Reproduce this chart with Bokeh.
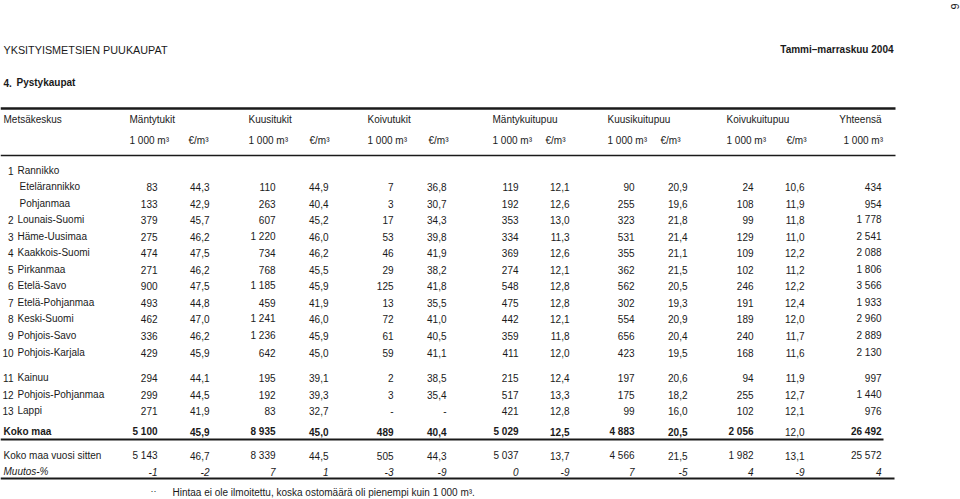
from bokeh.plotting import figure
from bokeh.models import ColumnDataSource, Range1d
from bokeh.core.properties import value
from bokeh.embed import file_html
from bokeh.resources import INLINE
import math

# ---------------- data ----------------
title = "YKSITYISMETSIEN PUUKAUPAT"
period = "Tammi\u2013marraskuu 2004"
section_no = "4."
section = "Pystykaupat"
page_no = "9"

groups = ["Mäntytukit", "Kuusitukit", "Koivutukit", "Mäntykuitupuu", "Kuusikuitupuu", "Koivukuitupuu"]
unit_vol = "1 000 m³"
unit_price = "€/m³"

region_nums = ["", "", "2", "3", "4", "5", "6", "7", "8", "9", "10", "11", "12", "13"]
regions = ["Etelärannikko", "Pohjanmaa", "Lounais-Suomi", "Häme-Uusimaa", "Kaakkois-Suomi",
           "Pirkanmaa", "Etelä-Savo", "Etelä-Pohjanmaa", "Keski-Suomi", "Pohjois-Savo",
           "Pohjois-Karjala", "Kainuu", "Pohjois-Pohjanmaa", "Lappi"]

mant_m3 = [83, 133, 379, 275, 474, 271, 900, 493, 462, 336, 429, 294, 299, 271]
mant_eur = [44.3, 42.9, 45.7, 46.2, 47.5, 46.2, 47.5, 44.8, 47.0, 46.2, 45.9, 44.1, 44.5, 41.9]
kuusi_m3 = [110, 263, 607, 1220, 734, 768, 1185, 459, 1241, 1236, 642, 195, 192, 83]
kuusi_eur = [44.9, 40.4, 45.2, 46.0, 46.2, 45.5, 45.9, 41.9, 46.0, 45.9, 45.0, 39.1, 39.3, 32.7]
koivu_m3 = [7, 3, 17, 53, 46, 29, 125, 13, 72, 61, 59, 2, 3, None]
koivu_eur = [36.8, 30.7, 34.3, 39.8, 41.9, 38.2, 41.8, 35.5, 41.0, 40.5, 41.1, 38.5, 35.4, None]
mkuitu_m3 = [119, 192, 353, 334, 369, 274, 548, 475, 442, 359, 411, 215, 517, 421]
mkuitu_eur = [12.1, 12.6, 13.0, 11.3, 12.6, 12.1, 12.8, 12.8, 12.1, 11.8, 12.0, 12.4, 13.3, 12.8]
kkuitu_m3 = [90, 255, 323, 531, 355, 362, 562, 302, 554, 656, 423, 197, 175, 99]
kkuitu_eur = [20.9, 19.6, 21.8, 21.4, 21.1, 21.5, 20.5, 19.3, 20.9, 20.4, 19.5, 20.6, 18.2, 16.0]
kokuitu_m3 = [24, 108, 99, 129, 109, 102, 246, 191, 189, 240, 168, 94, 255, 102]
kokuitu_eur = [10.6, 11.9, 11.8, 11.0, 12.2, 11.2, 12.2, 12.4, 12.0, 11.7, 11.6, 11.9, 12.7, 12.1]
yht_m3 = [434, 954, 1778, 2541, 2088, 1806, 3566, 1933, 2960, 2889, 2130, 997, 1440, 976]

koko_maa = [5100, 45.9, 8935, 45.0, 489, 40.4, 5029, 12.5, 4883, 20.5, 2056, 12.0, 26492]
vuosi_sitten = [5143, 46.7, 8339, 44.5, 505, 44.3, 5037, 13.7, 4566, 21.5, 1982, 13.1, 25572]
muutos = [-1, -2, 7, 1, -3, -9, 0, -9, 7, -5, 4, -9, 4]

footnote = "Hintaa ei ole ilmoitettu, koska ostomäärä oli pienempi kuin 1 000 m³."

# ---------------- layout ----------------
W, H = 960, 499
FONT = "Liberation Sans"
FS = "10px"
INK = "#1a1a1a"

col_right = [157, 209, 275, 328, 393, 446, 518, 569, 634, 687, 753, 804, 881]
group_left = [129, 248, 367, 492, 607, 726]
price_left = [188, 309, 428, 545, 660, 786]
row_y = [186, 203, 219, 236, 252, 269, 285, 302, 318, 335, 352, 377, 394, 410]


def fmt_int(v):
    if v is None:
        return "-"
    s = f"{abs(int(v)):,}".replace(",", " ")
    return ("-" if v < 0 else "") + s


def fmt_dec(v):
    if v is None:
        return "-"
    return f"{v:.1f}".replace(".", ",")


def fmt_row(vals):
    return [fmt_int(v) if i % 2 == 0 or i == 12 else fmt_dec(v) for i, v in enumerate(vals)]


p = figure(width=W, height=H, output_backend="svg", toolbar_location=None,
           x_range=Range1d(0, W), y_range=Range1d(H, 0),
           min_border=0, outline_line_color=None)
p.axis.visible = False
p.grid.visible = False
p.background_fill_color = "white"


def txt(xs, ys, texts, align="left", style="normal", size=FS, angle=0.0):
    src = ColumnDataSource(dict(x=xs, y=ys, t=texts))
    p.text(x="x", y="y", text="t", source=src, text_align=align, text_baseline="middle",
           text_font=value(FONT), text_font_size=size, text_font_style=style,
           text_color=INK, angle=angle)


# title block
txt([3], [49], [title], size="10.8px")
txt([893], [49], [period], align="right", style="bold", size="10px")
txt([3], [82], [section_no], style="bold", size="10px")
txt([16], [82], [section], style="bold", size="10px")
txt([954], [6], [page_no], align="center", size="11px", angle=math.pi / 2)

# rules
p.segment(x0=[0, 0, 0, 0], x1=[895, 895, 883, 894], y0=[108, 155, 439, 478], y1=[108, 155, 439, 478],
          line_color=INK, line_width=[2.6, 1.6, 2.2, 2.2])

# header
txt([3], [119], ["Metsäkeskus"])
txt(group_left, [119] * 6, groups)
txt([881], [119], ["Yhteensä"], align="right")
txt(group_left + [843], [140] * 7, [unit_vol] * 7)
txt(price_left, [140] * 6, [unit_price] * 6)

# region labels
txt([13], [170], ["1"], align="right")
txt([17], [170], ["Rannikko"])
sub = [r for r, n in zip(regions, region_nums) if n == ""]
sub_y = [y for y, n in zip(row_y, region_nums) if n == ""]
txt([19] * len(sub), sub_y, sub)
nums = [n for n in region_nums if n]
num_y = [y for y, n in zip(row_y, region_nums) if n]
txt([13] * len(nums), num_y, nums, align="right")
txt([17] * len(nums), num_y, [r for r, n in zip(regions, region_nums) if n])

# body values
columns = [mant_m3, mant_eur, kuusi_m3, kuusi_eur, koivu_m3, koivu_eur,
           mkuitu_m3, mkuitu_eur, kkuitu_m3, kkuitu_eur, kokuitu_m3, kokuitu_eur, yht_m3]
bx, by, bt = [], [], []
for ci, col in enumerate(columns):
    for ri, v in enumerate(col):
        bx.append(col_right[ci])
        by.append(row_y[ri])
        bt.append(fmt_int(v) if (ci % 2 == 0) else fmt_dec(v))
txt(bx, by, bt, align="right")

# totals
km = fmt_row(koko_maa)
txt([3], [431], ["Koko maa"], style="bold")
bold_idx = [i for i in range(13) if i != 11]
txt([col_right[i] for i in bold_idx], [431] * len(bold_idx), [km[i] for i in bold_idx], align="right", style="bold")
txt([col_right[11]], [431], [km[11]], align="right")

txt([3], [455], ["Koko maa vuosi sitten"])
txt(col_right, [455] * 13, fmt_row(vuosi_sitten), align="right")
txt([3], [471], ["Muutos-%"], style="italic")
txt(col_right, [471] * 13, [fmt_int(v) for v in muutos], align="right", style="italic")

# footnote
txt([150], [490], ["··"], size="9px")
txt([172], [492], [footnote])

open("out.html", "w").write(file_html(p, INLINE))
